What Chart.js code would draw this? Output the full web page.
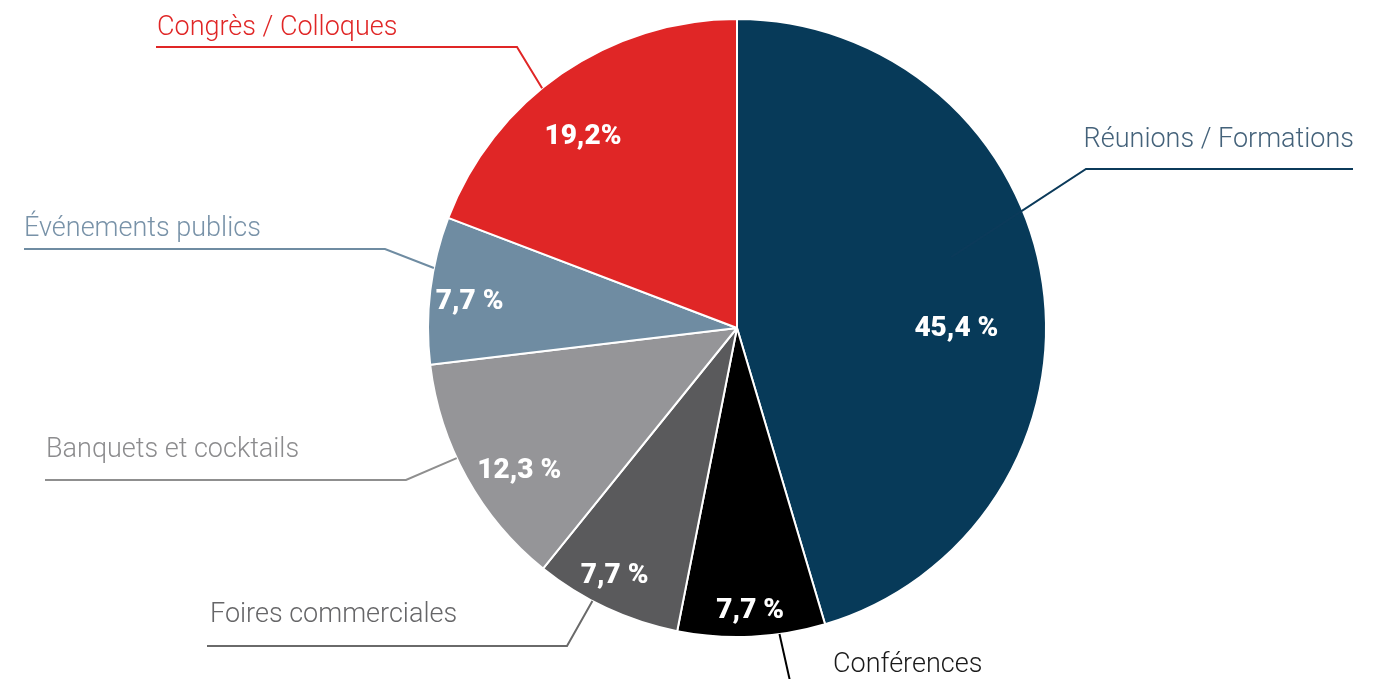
<!DOCTYPE html>
<html>
<head>
<meta charset="utf-8">
<script src="https://cdn.jsdelivr.net/npm/chart.js@4"></script>
<style>
  body { margin: 0; background: #fff; }
  #wrap { width: 1389px; height: 679px; position: relative; }
</style>
</head>
<body>
<div id="wrap"><canvas id="camembert"></canvas></div>
<script>
const categories = ["Réunions / Formations", "Conférences", "Foires commerciales", "Banquets et cocktails", "Événements publics", "Congrès / Colloques"];
const values = [45.4, 7.7, 7.7, 12.3, 7.7, 19.2];
const valueLabels = ["45,4 %", "7,7 %", "7,7 %", "12,3 %", "7,7 %", "19,2%"];
const sliceColors = ["#073a59", "#000000", "#5a5a5c", "#959598", "#6f8ca2", "#e02626"];
const textColors = ["#44627a", "#1a1a1a", "#666668", "#8c8c8e", "#7892a8", "#e02626"];
const lineColors = ["#0b3a5a", "#000000", "#6a6a6a", "#8f8f8f", "#6f8ca2", "#e02626"];

// placement des pourcentages : decalage d'angle (deg) et rayon relatif
const valuePos = [
  { da: 8, r: 0.71 },
  { da: 0, r: 0.91 },
  { da: 1.4, r: 0.89 },
  { da: -4, r: 0.84 },
  { da: -1, r: 0.87 },
  { da: -4, r: 0.8 },
];

// traits de rappel : angle depuis le haut (deg), rayon relatif, coude, fin, texte
const leaders = [
  { a: 71.7, r: 0.73, elbow: [1086, 169], endX: 1353, tx: 1354, ty: 147, align: "right" },
  { a: 172.1, r: 1.0, elbow: null, end: [792, 690], tx: 833, ty: 672, align: "left" },
  { a: 207.9, r: 1.0, elbow: [567, 646], endX: 207, tx: 210, ty: 622, align: "left" },
  { a: 245.1, r: 1.0, elbow: [406, 480], endX: 45, tx: 46, ty: 457, align: "left" },
  { a: 281.2, r: 1.0, elbow: [385, 249], endX: 24, tx: 24, ty: 236, align: "left" },
  { a: 320.9, r: 1.0, elbow: [517, 47], endX: 156, tx: 157, ty: 35, align: "left" },
];

const etiquettes = {
  id: "etiquettes",
  afterDatasetsDraw(chart) {
    const ctx = chart.ctx;
    const arcs = chart.getDatasetMeta(0).data;
    const cx = arcs[0].x, cy = arcs[0].y, R = arcs[0].outerRadius;

    // traits + noms
    ctx.save();
    leaders.forEach((l, i) => {
      const ang = (l.a - 90) * Math.PI / 180;
      const sx = cx + Math.cos(ang) * R * l.r;
      const sy = cy + Math.sin(ang) * R * l.r;
      ctx.strokeStyle = lineColors[i];
      ctx.lineWidth = 2;
      ctx.beginPath();
      ctx.moveTo(sx, sy);
      if (l.elbow) {
        ctx.lineTo(l.elbow[0], l.elbow[1]);
        ctx.lineTo(l.endX, l.elbow[1]);
      } else {
        ctx.lineTo(l.end[0], l.end[1]);
      }
      ctx.stroke();

      ctx.fillStyle = textColors[i];
      ctx.font = "300 27px Roboto";
      ctx.textAlign = l.align;
      ctx.textBaseline = "alphabetic";
      ctx.fillText(categories[i], l.tx, l.ty);
    });

    // pourcentages
    ctx.fillStyle = "#ffffff";
    ctx.font = "900 28px Roboto";
    ctx.textAlign = "center";
    ctx.textBaseline = "middle";
    arcs.forEach((arc, i) => {
      const mid = (arc.startAngle + arc.endAngle) / 2 + valuePos[i].da * Math.PI / 180;
      const x = cx + Math.cos(mid) * R * valuePos[i].r;
      const y = cy + Math.sin(mid) * R * valuePos[i].r + 2;
      ctx.fillText(valueLabels[i], x, y);
    });
    ctx.restore();
  },
};

document.addEventListener("DOMContentLoaded", () => {
  new Chart(document.getElementById("camembert"), {
    type: "pie",
    data: {
      labels: categories,
      datasets: [
        {
          data: values,
          backgroundColor: sliceColors,
          borderColor: "#ffffff",
          borderWidth: 2,
        },
      ],
    },
    options: {
      responsive: true,
      maintainAspectRatio: false,
      animation: false,
      layout: {
        padding: { top: 18, bottom: 41, left: 427, right: 342 },
      },
      plugins: {
        legend: { display: false },
        tooltip: { enabled: false },
        title: { display: false },
      },
    },
    plugins: [etiquettes],
  });
});
</script>
</body>
</html>
